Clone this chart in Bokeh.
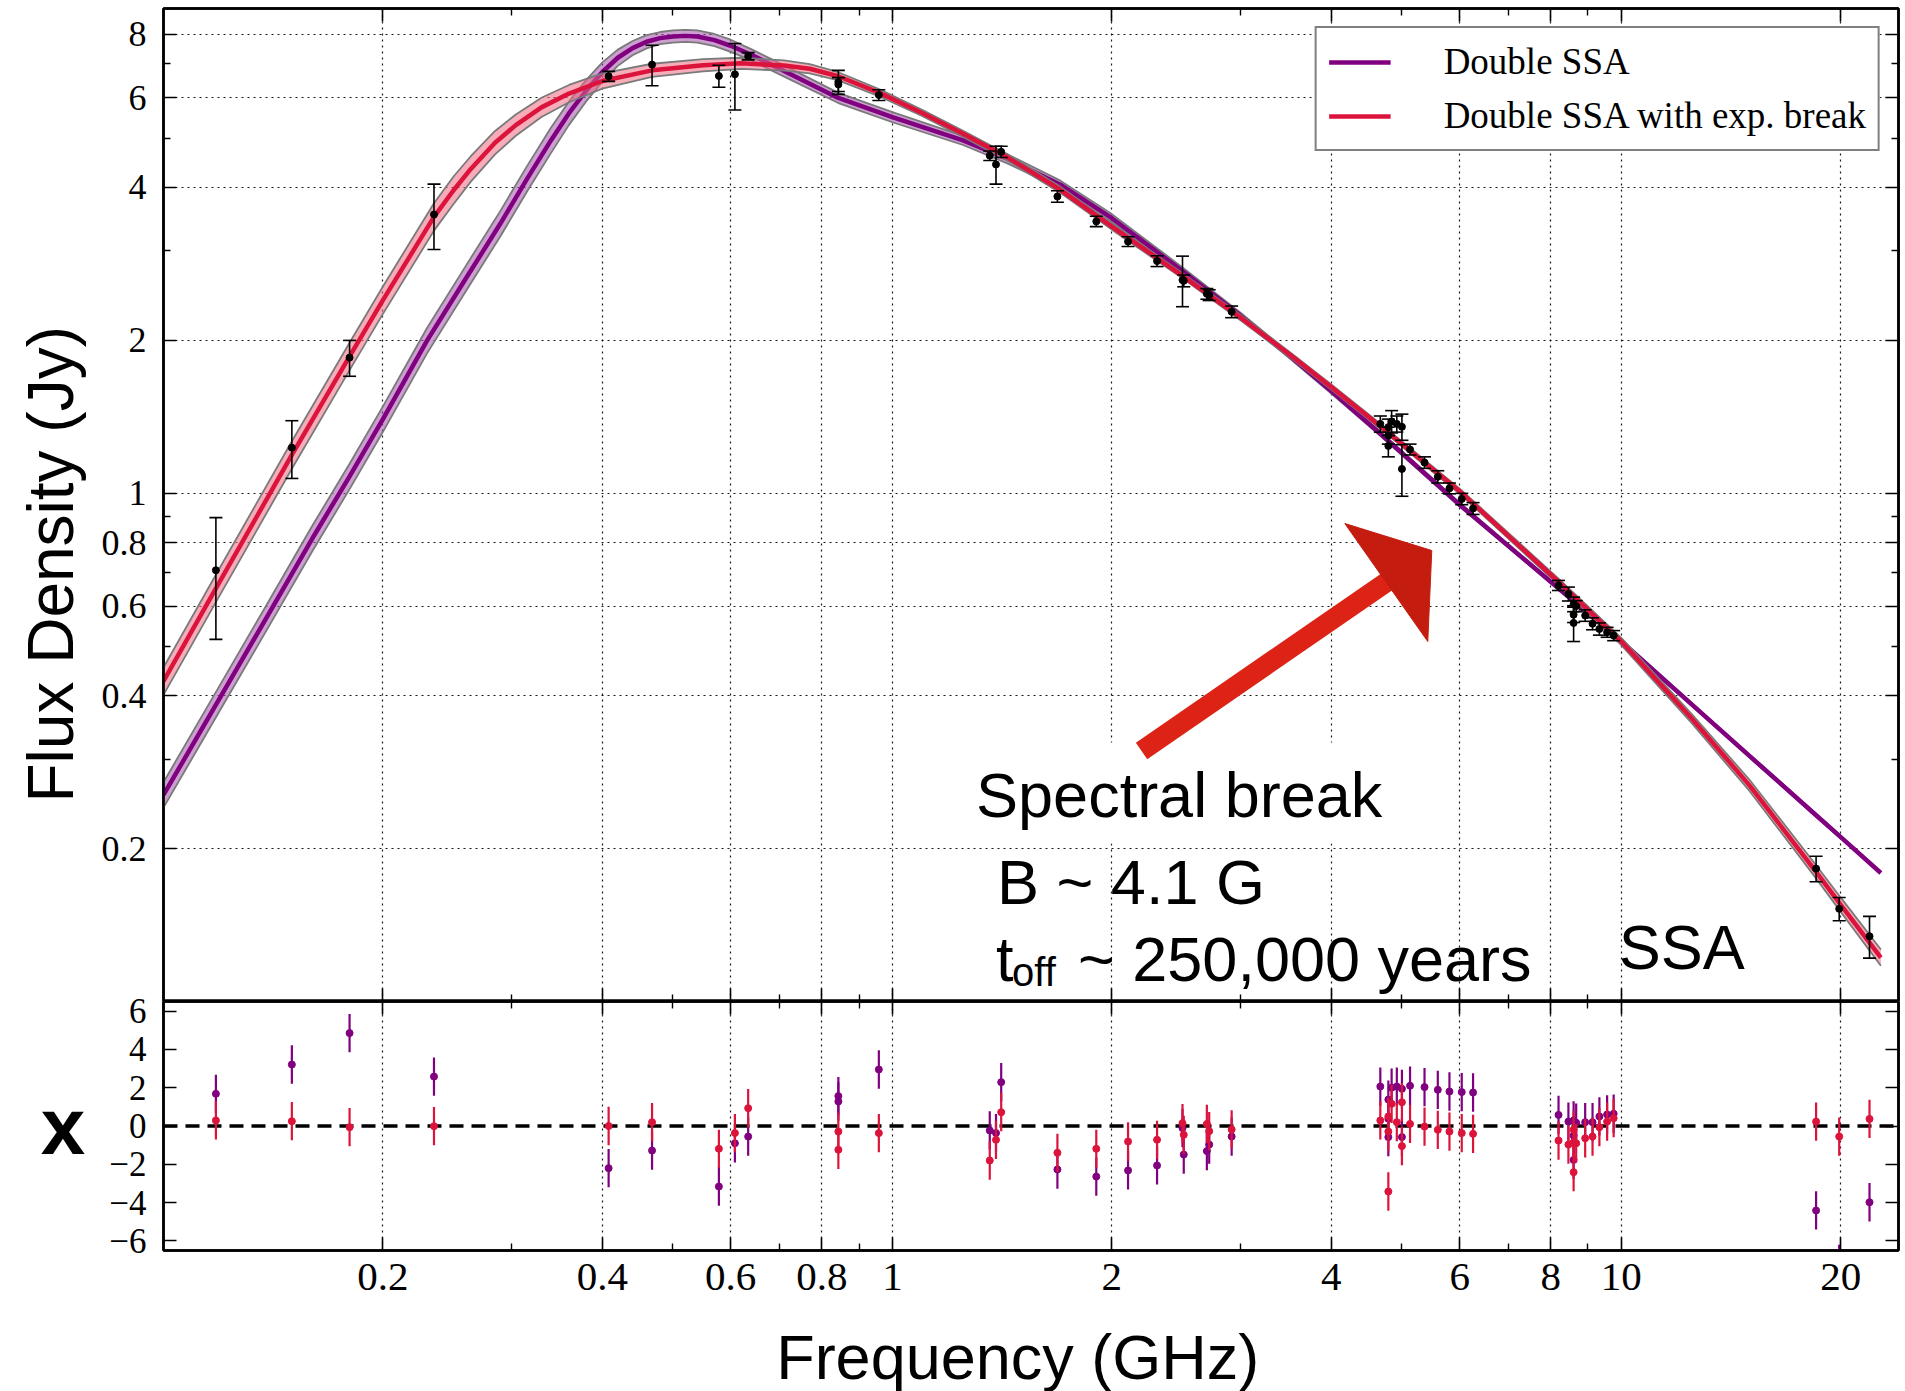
import numpy as np
from bokeh.plotting import figure
from bokeh.layouts import column
from bokeh.models import (Range1d, LogAxis, LinearAxis, FixedTicker, CustomJSTickFormatter,
                          Whisker, TeeHead, Label, Legend, LegendItem, Span, Arrow,
                          PolyAnnotation, BoxAnnotation, ColumnDataSource, Grid, Title)
from bokeh.embed import file_html
from bokeh.resources import INLINE

# ---------------- data ----------------
# model 1: double SSA (purple)
ssa_freq = [0.10, 0.12, 0.14, 0.16, 0.18, 0.20, 0.23, 0.26, 0.29, 0.315, 0.34, 0.36,
            0.38, 0.40, 0.42, 0.44, 0.46, 0.48, 0.50, 0.52, 0.54, 0.57, 0.60, 0.64,
            0.70, 0.843, 1.0, 1.25, 1.44, 1.7, 2.0, 2.5, 3.0, 3.5, 4.0, 4.67, 6.0, 8.0,
            10.0, 12.5, 15.0, 18.5, 20.0, 22.7]
ssa_flux = [0.255, 0.40, 0.585, 0.815, 1.08, 1.40, 2.0, 2.65, 3.4, 4.15, 4.95, 5.6,
            6.2, 6.75, 7.2, 7.52, 7.74, 7.87, 7.93, 7.95, 7.93, 7.8, 7.6, 7.3,
            6.85, 6.0, 5.5, 4.95, 4.55, 4.05, 3.48, 2.74, 2.24, 1.87, 1.59, 1.31, 0.95, 0.67,
            0.511, 0.384, 0.304, 0.2326, 0.2106, 0.179]
ssa_band = [0.025] * 11 + [0.023, 0.021, 0.019, 0.016, 0.014, 0.013, 0.012, 0.012, 0.012,
            0.012, 0.012, 0.012, 0.011, 0.011, 0.010, 0.010, 0.009, 0.009, 0.008, 0.008,
            0.007, 0.006, 0.005, 0.005, 0.004, 0.004, 0.003, 0.003, 0.003, 0.003, 0.003,
            0.003]

# model 2: double SSA with exponential break (red)
brk_freq = [0.10, 0.118, 0.15, 0.18, 0.20, 0.235, 0.25, 0.264, 0.285, 0.304, 0.33, 0.36,
            0.40, 0.468, 0.55, 0.62, 0.71, 0.77, 0.843, 0.96, 1.1, 1.25, 1.44, 1.69, 2.0,
            2.5, 3.0, 3.5, 4.0, 4.67, 6.0, 8.2, 10.0, 12.5, 15.0, 18.5, 20.0, 22.7]
brk_flux = [0.427, 0.65, 1.19, 1.86, 2.40, 3.50, 3.95, 4.35, 4.9, 5.3, 5.75, 6.12,
            6.48, 6.8, 6.96, 7.02, 6.95, 6.85, 6.62, 6.14, 5.6, 5.1, 4.58, 3.98, 3.35,
            2.68, 2.22, 1.88, 1.62, 1.355, 1.01, 0.67, 0.511, 0.36, 0.266, 0.180, 0.155, 0.122]
brk_band = [0.027] * 7 + [0.025, 0.023, 0.021, 0.019, 0.017, 0.015, 0.013, 0.012, 0.011,
            0.010, 0.009, 0.008, 0.007, 0.006, 0.006, 0.006, 0.006, 0.006, 0.005, 0.005,
            0.005, 0.005, 0.005, 0.005, 0.006, 0.007, 0.009, 0.011, 0.013, 0.014, 0.016]

# observed flux densities (GHz, Jy, Jy)
obs_freq = [0.118, 0.150, 0.180, 0.235, 0.408, 0.468, 0.578, 0.608, 0.634, 0.843, 0.843, 0.958,
            1.36, 1.387, 1.41, 1.684, 1.904, 2.105, 2.307, 2.50, 2.51, 2.70, 2.72, 2.92,
            4.67, 4.79, 4.79, 4.79, 4.84, 4.92, 5.00, 5.00, 5.13, 5.37, 5.60, 5.81, 6.04, 6.26,
            8.20, 8.46, 8.60, 8.60, 8.60, 8.67, 8.92, 9.13, 9.33, 9.56, 9.76,
            18.5, 19.9, 21.9]
obs_flux = [0.706, 1.23, 1.85, 3.54, 6.62, 6.98, 6.63, 6.68, 7.25, 6.45, 6.38, 6.08,
            4.62, 4.44, 4.70, 3.84, 3.43, 3.13, 2.865, 2.63, 2.62, 2.47, 2.456, 2.277,
            1.37, 1.35, 1.30, 1.24, 1.385, 1.37, 1.352, 1.117, 1.22, 1.15, 1.078, 1.023, 0.975, 0.934,
            0.659, 0.634, 0.605, 0.577, 0.556, 0.60, 0.575, 0.554, 0.541, 0.533, 0.525,
            0.1826, 0.1522, 0.1344]
obs_err = [0.19, 0.16, 0.15, 0.52, 0.15, 0.64, 0.33, 1.0, 0.12, 0.35, 0.20, 0.15,
           0.10, 0.38, 0.12, 0.10, 0.08, 0.07, 0.07, 0.30, 0.07, 0.06, 0.06, 0.06,
           0.05, 0.05, 0.05, 0.06, 0.07, 0.05, 0.08, 0.13, 0.03, 0.03, 0.03, 0.025, 0.025, 0.025,
           0.015, 0.02, 0.02, 0.02, 0.045, 0.015, 0.015, 0.015, 0.015, 0.012, 0.012,
           0.0105, 0.008, 0.0127]

# normalised residuals of each model at the observed frequencies
res_ssa = [1.68, 3.21, 4.85, 2.58, -2.2, -1.28, -3.16, -0.9, -0.55, 1.56, 1.28, 2.95,
           -0.23, -0.37, 2.29, -2.27, -2.64, -2.32, -2.06, -0.11, -1.49, -1.31, -0.97, -0.55,
           2.06, 1.38, 0.38, -0.58, 2.0, 2.06, 1.94, -0.58, 2.1, 2.03, 1.89, 1.8, 1.77, 1.75,
           0.58, 0.23, 0.29, -0.5, -1.77, 0.17, 0.2, 0.2, 0.5, 0.6, 0.64,
           -4.41, -7.2, -3.98]
res_brk = [0.29, 0.25, -0.06, -0.01, 0.0, 0.2, -1.19, -0.37, 0.93, -0.29, -1.24, -0.37,
           -1.8, -0.72, 0.72, -1.4, -1.19, -0.81, -0.72, 0.15, -0.46, 0.11, -0.27, -0.18,
           0.29, 0.50, -0.29, -3.42, 1.16, 0.2, 1.24, -1.05, 0.11, -0.03, -0.2, -0.29, -0.37, -0.41,
           -0.76, -0.97, -0.2, -0.85, -2.41, -0.9, -0.64, -0.55, -0.06, 0.23, 0.41,
           0.23, -0.55, 0.37]

x_ticks = [0.2, 0.4, 0.6, 0.8, 1, 2, 4, 6, 8, 10, 20]
x_minor = [0.3, 0.5, 0.7, 0.9, 3, 5, 7, 9]
y_ticks = [0.2, 0.4, 0.6, 0.8, 1, 2, 4, 6, 8]
y_minor = [0.3, 0.5, 0.7, 0.9, 3, 5, 7]
r_ticks = [-6, -4, -2, 0, 2, 4, 6]

# ---------------- layout constants ----------------
W = 1905
LB, RB = 162, 7
MAIN_H, MAIN_T = 1001, 8
OVER = 10                      # residual canvas overlaps the main one by this much
RES_BOT = 70
RES_H = OVER + 249 + RES_BOT    # residual frame 1001..1250
TAIL_H = 1391 - (MAIN_H + 249 + RES_BOT)   # strip holding the x title
FW = W - LB - RB
XR = (0.1, 24.0)
YR = (0.1, 9.0)
RR = (-6.5, 6.5)
TXT_DY = -22  # label baseline correction

PURPLE = "#800080"
RED = "#DC143C"
SANS = "Liberation Sans"
SERIF = "Liberation Serif"


def fx(X):
    lo, hi = np.log10(XR[0]), np.log10(XR[1])
    return float(10 ** (lo + (X - LB) / FW * (hi - lo)))


def fy_main(Y):
    lo, hi = np.log10(YR[0]), np.log10(YR[1])
    return float(10 ** (hi - (Y - MAIN_T) / (MAIN_H - MAIN_T) * (hi - lo)))


FMT_CODE = "const v = parseFloat(tick.toPrecision(6)); return v < 0 ? '\u2212' + String(-v) : String(v);"


def style_axis(ax, labels, size="36px", standoff=18):
    ax.axis_line_width = 2.5
    ax.axis_line_color = "black"
    ax.major_tick_in = 13
    ax.major_tick_out = 0
    ax.minor_tick_in = 7
    ax.minor_tick_out = 0
    ax.major_tick_line_width = 1.6
    ax.minor_tick_line_width = 1.4
    ax.major_tick_line_color = "black"
    ax.minor_tick_line_color = "black"
    if labels:
        ax.formatter = CustomJSTickFormatter(code=FMT_CODE)
        ax.major_label_text_font = SERIF
        ax.major_label_text_font_size = size
        ax.major_label_text_color = "black"
        ax.major_label_standoff = standoff
    else:
        ax.formatter = CustomJSTickFormatter(code="return '';")
        ax.major_label_text_font_size = "0px"
        ax.major_label_standoff = 0


def add_axes(fig, ylog, yt, ym, xlab, ylab, xsize="41px", ysize="36px", xstand=13, ystand=17):
    axes = {}
    for place in ("below", "above"):
        ax = LogAxis(ticker=FixedTicker(ticks=x_ticks, minor_ticks=x_minor))
        style_axis(ax, xlab and place == "below", xsize, xstand)
        fig.add_layout(ax, place)
        axes[place] = ax
    for place in ("left", "right"):
        ax = (LogAxis if ylog else LinearAxis)(ticker=FixedTicker(ticks=yt, minor_ticks=ym))
        style_axis(ax, ylab and place == "left", ysize, ystand)
        fig.add_layout(ax, place)
        axes[place] = ax
    return axes


def add_grid(fig, dim, ticks):
    g = Grid(dimension=dim, ticker=FixedTicker(ticks=ticks))
    g.grid_line_color = "black"
    g.grid_line_width = 1.2
    g.grid_line_dash = "2 4"
    g.grid_line_alpha = 0.9
    fig.add_layout(g)


def text_label(fig, x, y, text, size, align="left"):
    fig.add_layout(Label(x=x, y=y, text=text, text_font=SANS,
                         text_font_size=size, text_font_style="normal", text_align=align,
                         text_baseline="alphabetic", text_color="black"))


def main_label(X, Y, text, size):
    text_label(p, fx(X), fy_main(Y + TXT_DY), text, size)


# ---------------- main panel ----------------
p = figure(width=W, height=MAIN_H, x_axis_type="log", y_axis_type="log",
           x_range=Range1d(*XR), y_range=Range1d(*YR),
           x_axis_location=None, y_axis_location=None,
           output_backend="svg", toolbar_location=None,
           min_border_left=LB, min_border_right=RB, min_border_top=MAIN_T, min_border_bottom=0,
           background_fill_color="white", border_fill_color="white",
           outline_line_color="black", outline_line_width=2.5)
p.center = [r for r in p.center if not isinstance(r, Grid)]
add_grid(p, 0, x_ticks)
add_grid(p, 1, y_ticks)
add_axes(p, True, y_ticks, y_minor, False, True)

# y axis title, placed along the left border (text starts 199 px above frame bottom)
p.add_layout(Title(text="Flux Density (Jy)", align="left", offset=199, standoff=24,
                   vertical_align="bottom", text_font=SANS, text_font_size="64px",
                   text_font_style="normal", text_color="black"), "left")


def draw_model(fig, f, s, dex, color, fill):
    up = [v * 10 ** d for v, d in zip(s, dex)]
    lo = [v / 10 ** d for v, d in zip(s, dex)]
    fig.varea(x=f, y1=lo, y2=up, fill_color=fill, fill_alpha=0.55)
    fig.line(f, up, line_color="#7a7a7a", line_width=1.8)
    fig.line(f, lo, line_color="#7a7a7a", line_width=1.8)
    return fig.line(f, s, line_color=color, line_width=4.5)


ln_ssa = draw_model(p, ssa_freq, ssa_flux, ssa_band, PURPLE, "#a050a8")
ln_brk = draw_model(p, brk_freq, brk_flux, brk_band, RED, "#ee6a80")

src = ColumnDataSource(dict(f=obs_freq, s=obs_flux,
                            hi=[a + b for a, b in zip(obs_flux, obs_err)],
                            lo=[a - b for a, b in zip(obs_flux, obs_err)]))
wk = Whisker(source=src, base="f", upper="hi", lower="lo", dimension="height",
             line_color="black", line_width=1.6,
             upper_head=TeeHead(size=13, line_color="black", line_width=1.6),
             lower_head=TeeHead(size=13, line_color="black", line_width=1.6))
wk.level = "overlay"
p.add_layout(wk)
p.scatter("f", "s", source=src, size=7, color="black")

leg = Legend(items=[LegendItem(label="Double SSA", renderers=[ln_ssa]),
                    LegendItem(label="Double SSA with exp. break", renderers=[ln_brk])],
             location="top_right", margin=18, padding=12, spacing=11,
             glyph_width=62, glyph_height=36, label_height=36, label_standoff=53,
             label_text_font=SERIF, label_text_font_size="37px", label_text_color="black",
             border_line_color="black", border_line_width=2,
             background_fill_color="white", background_fill_alpha=1.0)
p.add_layout(leg)

# white backing of the pasted "Spectral break" caption (hides the grid there)
p.add_layout(BoxAnnotation(left=fx(965), right=fx(1400), top=fy_main(742), bottom=fy_main(843),
                           fill_color="white", fill_alpha=1.0, line_alpha=0.0))

# annotation arrow
p.add_layout(Arrow(end=None, x_start=fx(1140.6), y_start=fy_main(750.4),
                   x_end=fx(1388), y_end=fy_main(580), line_color="#dc2316", line_width=20,
                   line_cap="butt"))
p.add_layout(PolyAnnotation(xs=[fx(1344), fx(1431), fx(1427)],
                            ys=[fy_main(523), fy_main(550), fy_main(641)],
                            fill_color="#c51c10", fill_alpha=1.0,
                            line_color="#c51c10", line_alpha=1.0, line_width=1))

main_label(975, 816, "Spectral break", "63px")
main_label(996, 903, "B ~ 4.1 G", "63px")
main_label(995, 980, "t", "63px")
main_label(1011, 993, "off", "40px")
main_label(1077, 980, "~ 250,000 years", "63px")
main_label(1618, 968, "SSA", "63px")

# ---------------- residual panel ----------------
q = figure(width=W, height=RES_H, x_axis_type="log",
           x_range=Range1d(*XR), y_range=Range1d(*RR),
           x_axis_location=None, y_axis_location=None,
           output_backend="svg", toolbar_location=None,
           min_border_left=LB, min_border_right=RB, min_border_top=OVER, min_border_bottom=RES_BOT,
           background_fill_color="white", border_fill_color="white", border_fill_alpha=0.0,
           outline_line_color="black", outline_line_width=2.5)
q.margin = (-OVER, 0, 0, 0)
q.center = [r for r in q.center if not isinstance(r, Grid)]
add_grid(q, 0, x_ticks)
axq = add_axes(q, False, r_ticks, [], True, True, xsize="41px", ysize="35px")

axq["left"].axis_label = "x"
axq["left"].axis_label_text_font = SANS
axq["left"].axis_label_text_font_size = "80px"
axq["left"].axis_label_text_font_style = "bold"
axq["left"].axis_label_text_color = "black"
axq["left"].axis_label_orientation = "horizontal"
axq["left"].axis_label_standoff = 21

zero = Span(location=0, dimension="width", line_color="black", line_width=3.5, line_dash="14 8")
zero.level = "underlay"
q.add_layout(zero)

for res, col in ((res_ssa, PURPLE), (res_brk, RED)):
    q.segment(x0=obs_freq, y0=[r - 1 for r in res], x1=obs_freq, y1=[r + 1 for r in res],
              line_color=col, line_width=2.2)
    q.scatter(obs_freq, res, size=7, color=col)

# ---------------- strip with the x-axis title ----------------
# (its frame is aligned by the column with the panels above: page x LB .. W-RB)
t = figure(width=W, height=TAIL_H, x_range=Range1d(LB, W - RB), y_range=Range1d(TAIL_H, 0),
           x_axis_location=None, y_axis_location=None,
           output_backend="svg", toolbar_location=None,
           min_border_left=LB, min_border_right=RB, min_border_top=0, min_border_bottom=0,
           background_fill_color="white", border_fill_color="white", outline_line_color=None)
t.center = [r for r in t.center if not isinstance(r, Grid)]
tail_top = MAIN_H + 249 + RES_BOT
text_label(t, 775, 1378 - tail_top + TXT_DY, "Frequency (GHz)", "63px", align="left")

layout = column(p, q, t, spacing=0)
open("out.html", "w").write(file_html(layout, INLINE))
